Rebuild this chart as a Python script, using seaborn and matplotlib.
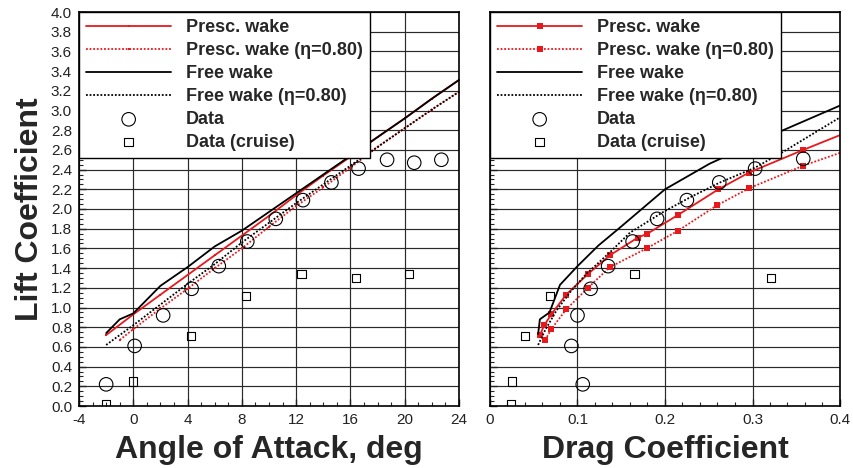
import numpy as np
import pandas as pd
import matplotlib
matplotlib.use("Agg")
import matplotlib.pyplot as plt
import matplotlib.ticker as mticker
import seaborn as sns

# ---- left panel: lift curve (alpha, deg vs CL) ----
alpha_presc = [-2, 0, 2, 4, 6, 8, 10, 12, 14, 16, 18, 20, 22, 24]
cl_presc = [0.72, 0.93, 1.13, 1.33, 1.53, 1.73, 1.93, 2.14, 2.34, 2.53, 2.73, 2.92, 3.12, 3.31]

alpha_presc_eta = [-1, 0, 2, 4, 6, 8, 10, 12, 14, 16, 18, 20, 22, 24]
cl_presc_eta = [0.67, 0.78, 0.99, 1.19, 1.40, 1.60, 1.82, 2.03, 2.22, 2.42, 2.63, 2.82, 3.01, 3.19]

alpha_free = [-2, -1, 0, 2, 4, 6, 8, 10, 12, 14, 16, 18, 20, 22, 24]
cl_free = [0.74, 0.88, 0.94, 1.22, 1.41, 1.62, 1.78, 1.97, 2.16, 2.35, 2.54, 2.73, 2.92, 3.12, 3.31]

alpha_free_eta = [-2, 0, 2, 4, 6, 8, 10, 12, 14, 16, 18, 20, 22, 24]
cl_free_eta = [0.62, 0.82, 1.03, 1.24, 1.44, 1.66, 1.86, 2.06, 2.25, 2.44, 2.63, 2.82, 3.01, 3.19]

alpha_data = [-2.0, 0.1, 2.2, 4.3, 6.3, 8.4, 10.5, 12.5, 14.6, 16.6, 18.7, 20.7, 22.7]
cl_data = [0.22, 0.61, 0.92, 1.19, 1.42, 1.67, 1.90, 2.09, 2.27, 2.41, 2.50, 2.47, 2.50]

alpha_cruise = [-2.0, 0.0, 4.25, 8.3, 12.4, 16.4, 20.3]
cl_cruise = [0.02, 0.25, 0.71, 1.12, 1.34, 1.30, 1.34]

# ---- right panel: drag polar (CD vs CL) ----
cd_presc = [0.057, 0.062, 0.070, 0.087, 0.112, 0.137, 0.169, 0.180, 0.215, 0.261, 0.296, 0.358, 0.400]
clr_presc = [0.72, 0.82, 0.93, 1.13, 1.34, 1.53, 1.71, 1.75, 1.94, 2.20, 2.37, 2.60, 2.75]

cd_presc_eta = [0.063, 0.070, 0.087, 0.112, 0.137, 0.179, 0.215, 0.260, 0.296, 0.358, 0.400]
clr_presc_eta = [0.67, 0.78, 0.98, 1.20, 1.41, 1.60, 1.78, 2.04, 2.21, 2.44, 2.57]

cd_free = [0.055, 0.057, 0.068, 0.080, 0.100, 0.124, 0.147, 0.200, 0.251, 0.335, 0.400]
clr_free = [0.73, 0.88, 0.95, 1.23, 1.42, 1.63, 1.80, 2.20, 2.46, 2.80, 3.05]

cd_free_eta = [0.055, 0.063, 0.076, 0.092, 0.110, 0.137, 0.160, 0.198, 0.229, 0.263, 0.303, 0.335, 0.400]
clr_free_eta = [0.62, 0.77, 0.97, 1.16, 1.34, 1.56, 1.76, 1.97, 2.12, 2.27, 2.42, 2.58, 2.93]

cd_data = [0.106, 0.093, 0.100, 0.115, 0.135, 0.163, 0.191, 0.225, 0.262, 0.303, 0.358]
clr_data = [0.22, 0.61, 0.92, 1.19, 1.42, 1.67, 1.90, 2.09, 2.27, 2.41, 2.51]

cd_cruise = [0.024, 0.0255, 0.040, 0.0686, 0.165, 0.321]
clr_cruise = [0.02, 0.25, 0.71, 1.12, 1.34, 1.30]

labels = ["Presc. wake", "Presc. wake (\u03b7=0.80)", "Free wake",
          "Free wake (\u03b7=0.80)", "Data", "Data (cruise)"]

RED = "#e8191c"
DOT = (0, (1, 1))

sns.set_theme(style="white")
plt.rcParams.update({
    "font.family": ["Liberation Sans", "DejaVu Sans"],
    "xtick.direction": "in",
    "ytick.direction": "in",
    "axes.edgecolor": "black",
    "axes.linewidth": 1.2,
    "axes.unicode_minus": False,
})

fig = plt.figure(figsize=(8.54, 4.68), dpi=100)
ax1 = fig.add_axes([79 / 854, 62 / 468, 380 / 854, 394 / 468])
ax2 = fig.add_axes([490 / 854, 62 / 468, 350 / 854, 394 / 468])


def draw_panel(ax, lines, data, cruise, msize):
    styles = [(RED, "-", "s"), (RED, DOT, "s"), ("black", "-", None), ("black", DOT, None)]
    for (x, y), (c, ls, mk), lab in zip(lines, styles, labels[:4]):
        kw = {}
        if mk:
            kw = dict(marker=mk, markersize=msize, markeredgewidth=0, markerfacecolor=c,
                      markevery=slice(0, len(x) - 1) if x[-1] >= 0.4 and x[-1] < 1 else None)
        sns.lineplot(x=x, y=y, ax=ax, color=c, linestyle=ls, lw=1.3, sort=False,
                     estimator=None, label=lab, zorder=3, **kw)
    sns.scatterplot(x=data[0], y=data[1], ax=ax, marker="o", s=95, facecolor="none",
                    edgecolor="black", linewidth=0.8, label=labels[4], zorder=4)
    sns.scatterplot(x=cruise[0], y=cruise[1], ax=ax, marker="s", s=36, facecolor="none",
                    edgecolor="black", linewidth=0.8, label=labels[5], zorder=4)

    ax.set_ylim(0, 4)
    ax.yaxis.set_major_locator(mticker.MultipleLocator(0.2))
    ax.yaxis.set_minor_locator(mticker.MultipleLocator(0.05))
    ax.grid(True, which="major", color="#2a2a2a", lw=0.85)
    ax.tick_params(which="major", length=5, width=1, labelsize=11, colors="#222222", pad=5)
    ax.tick_params(which="minor", length=3, width=0.8)
    ax.tick_params(axis="both", which="both", bottom=True, left=True)
    for s in ax.spines.values():
        s.set_color("black")
        s.set_zorder(6)

    handles, labs = ax.get_legend_handles_labels()
    leg = ax.legend(handles, labs, loc="upper left", bbox_to_anchor=(0, 1), borderaxespad=0,
                    frameon=True, fancybox=False, framealpha=1, edgecolor="black",
                    prop={"weight": "bold", "size": 13}, handlelength=4.7,
                    handletextpad=0.8, labelspacing=0.33, borderpad=0.4)
    leg.get_frame().set_linewidth(1.0)
    leg.set_zorder(5)


draw_panel(ax1,
           [(alpha_presc, cl_presc), (alpha_presc_eta, cl_presc_eta),
            (alpha_free, cl_free), (alpha_free_eta, cl_free_eta)],
           (alpha_data, cl_data), (alpha_cruise, cl_cruise), 1.8)
draw_panel(ax2,
           [(cd_presc, clr_presc), (cd_presc_eta, clr_presc_eta),
            (cd_free, clr_free), (cd_free_eta, clr_free_eta)],
           (cd_data, clr_data), (cd_cruise, clr_cruise), 4)

ax1.set_xlim(-4, 24)
ax1.xaxis.set_major_locator(mticker.MultipleLocator(4))
ax1.xaxis.set_minor_locator(mticker.MultipleLocator(1))
ax1.yaxis.set_major_formatter(mticker.FormatStrFormatter("%.1f"))
ax1.set_xlabel("Angle of Attack, deg", fontsize=23, fontweight="bold", labelpad=6)
ax1.set_ylabel("Lift Coefficient", fontsize=23, fontweight="bold", labelpad=4)

ax2.set_xlim(0, 0.4)
ax2.xaxis.set_major_locator(mticker.MultipleLocator(0.1))
ax2.xaxis.set_minor_locator(mticker.MultipleLocator(0.02))
ax2.xaxis.set_major_formatter(mticker.FuncFormatter(lambda v, _: "0" if abs(v) < 1e-9 else f"{v:g}"))
ax2.yaxis.set_major_formatter(mticker.NullFormatter())
ax2.set_xlabel("Drag Coefficient", fontsize=23, fontweight="bold", labelpad=6)
ax2.set_ylabel("")

fig.savefig("out.png", dpi=100, facecolor="white")
